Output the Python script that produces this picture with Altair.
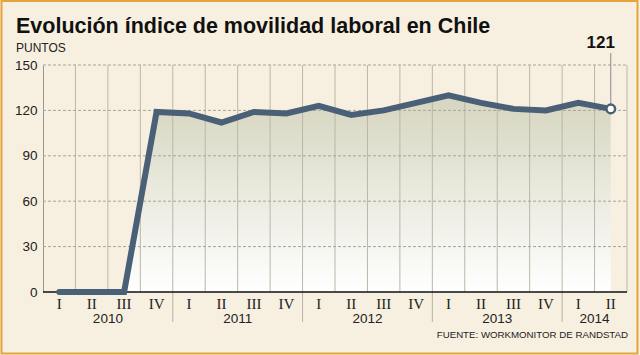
import altair as alt
import pandas as pd

# ---- data ----
years = ["2010"] * 4 + ["2011"] * 4 + ["2012"] * 4 + ["2013"] * 4 + ["2014"] * 2
quarters = ["I", "II", "III", "IV"] * 4 + ["I", "II"]
values = [0, 0, 0, 119, 118, 112, 119, 118, 123, 117, 120, 125, 130, 125, 121, 120, 125, 121]
year_labels = ["2010", "2011", "2012", "2013", "2014"]
year_anchor = ["2010-II", "2011-II", "2012-II", "2013-II", "2014-I"]
y_ticks = [0, 30, 60, 90, 120, 150]
grid_vals = [30, 60, 90, 120, 150]

keys = [f"{y}-{q}" for y, q in zip(years, quarters)]
df = pd.DataFrame({"q": keys, "quarter": quarters, "year": years, "v": values})
df_sep = df[df["quarter"] == "IV"]
df_last = df.tail(1)
df_years = pd.DataFrame({"q": year_anchor, "label": year_labels})
df_grid = pd.DataFrame({"v": grid_vals})
one = pd.DataFrame({"a": [0]})

W, H = 584, 227
LINE = "#4a6076"
BG = "#f7f0e0"
SANS = "Liberation Sans"

xscale = alt.Scale(type="band", paddingInner=0, paddingOuter=0, domain=keys)
yscale = alt.Scale(domain=[0, 150], nice=False)

XAX = alt.Axis(title=None, labelExpr="split(datum.value, '-')[1]",
               ticks=False, domain=False, grid=False,
               labelFont="Liberation Serif", labelFontSize=15,
               labelColor="#222", labelPadding=4, labelAngle=0)
YAX = alt.Axis(title=None, values=y_ticks, ticks=False, grid=False,
               domainColor="#9a968c", domainWidth=1,
               labelFont=SANS, labelFontSize=13.5, labelColor="#222",
               labelPadding=6)

def X(bp):
    return alt.X("q:N", scale=xscale, sort=keys, axis=XAX, bandPosition=bp)

def Y():
    return alt.Y("v:Q", scale=yscale, axis=YAX)

area = alt.Chart(df).mark_area(
    color=alt.Gradient(
        gradient="linear",
        stops=[alt.GradientStop(color="white", offset=0),
               alt.GradientStop(color="#d5d5bf", offset=1)],
        x1=1, x2=1, y1=1, y2=0,
    )
).encode(x=X(0.5), y=Y())

vgrid = alt.Chart(df).mark_rule(color="#bdb6a8", strokeWidth=1).encode(
    x=X(1), y=alt.value(0), y2=alt.value(H)
)

hgrid = alt.Chart(df_grid).mark_rule(color="#a9a59c", strokeWidth=1, strokeDash=[3, 2]).encode(
    y=Y(), x=alt.value(0), x2=alt.value(W)
)

seps = alt.Chart(df_sep).mark_rule(color="#b8b1a3", strokeWidth=1).encode(
    x=X(1), y=alt.value(H), y2=alt.value(H + 30)
)

xdomain = alt.Chart(one).mark_rule(color="#111", strokeWidth=1.5).encode(
    x=alt.value(0), x2=alt.value(W), y=alt.value(H)
)

line = alt.Chart(df).mark_line(color=LINE, strokeWidth=6, strokeCap="round").encode(
    x=X(0.5), y=Y()
)

leader = alt.Chart(df_last).mark_rule(color="#8c8c8c", strokeWidth=1).encode(
    x=X(0.5), y=Y(), y2=alt.value(-12)
)

pt = alt.Chart(df_last).mark_point(filled=True, fill="white", stroke=LINE,
                                   strokeWidth=2.5, size=75, opacity=1).encode(
    x=X(0.5), y=Y()
)

last_lbl = alt.Chart(df_last).mark_text(font=SANS, fontSize=17, fontWeight="bold",
                                        color="#111", align="center", baseline="alphabetic",
                                        dx=-10).encode(
    x=X(0.5), y=alt.value(-17), text="v:Q"
)

yr = alt.Chart(df_years).mark_text(font=SANS, fontSize=13.5, color="#222",
                                   align="center", baseline="alphabetic").encode(
    x=X(1), y=alt.value(258), text="label:N"
)

title = alt.Chart(one).mark_text(text="Evolución índice de movilidad laboral en Chile",
                                 font=SANS, fontSize=21.5, fontWeight="bold", color="#111",
                                 align="left", baseline="alphabetic").encode(
    x=alt.value(-27), y=alt.value(-32)
)
unit = alt.Chart(one).mark_text(text="PUNTOS", font=SANS, fontSize=12, color="#222",
                                align="left", baseline="alphabetic").encode(
    x=alt.value(-27), y=alt.value(-13)
)
source = alt.Chart(one).mark_text(text="FUENTE: WORKMONITOR DE RANDSTAD", font=SANS,
                                  fontSize=9.7, color="#222", align="right",
                                  baseline="alphabetic").encode(
    x=alt.value(585), y=alt.value(273)
)
border = alt.Chart(one).mark_rect(fillOpacity=0, stroke="#e6a43c", strokeWidth=2).encode(
    x=alt.value(-41.5), x2=alt.value(594.5), y=alt.value(-64), y2=alt.value(288.5)
)

chart = alt.layer(
    area, vgrid, hgrid, seps, xdomain, line, leader, pt, last_lbl, yr,
    title, unit, source, border
).properties(
    width=W, height=H,
    autosize=alt.AutoSizeParams(type="none"),
    padding={"left": 43, "top": 65, "right": 13, "bottom": 63},
    background=BG,
).configure_view(strokeOpacity=0)

chart.save("out.html", embed_options={"renderer": "svg", "actions": False})
